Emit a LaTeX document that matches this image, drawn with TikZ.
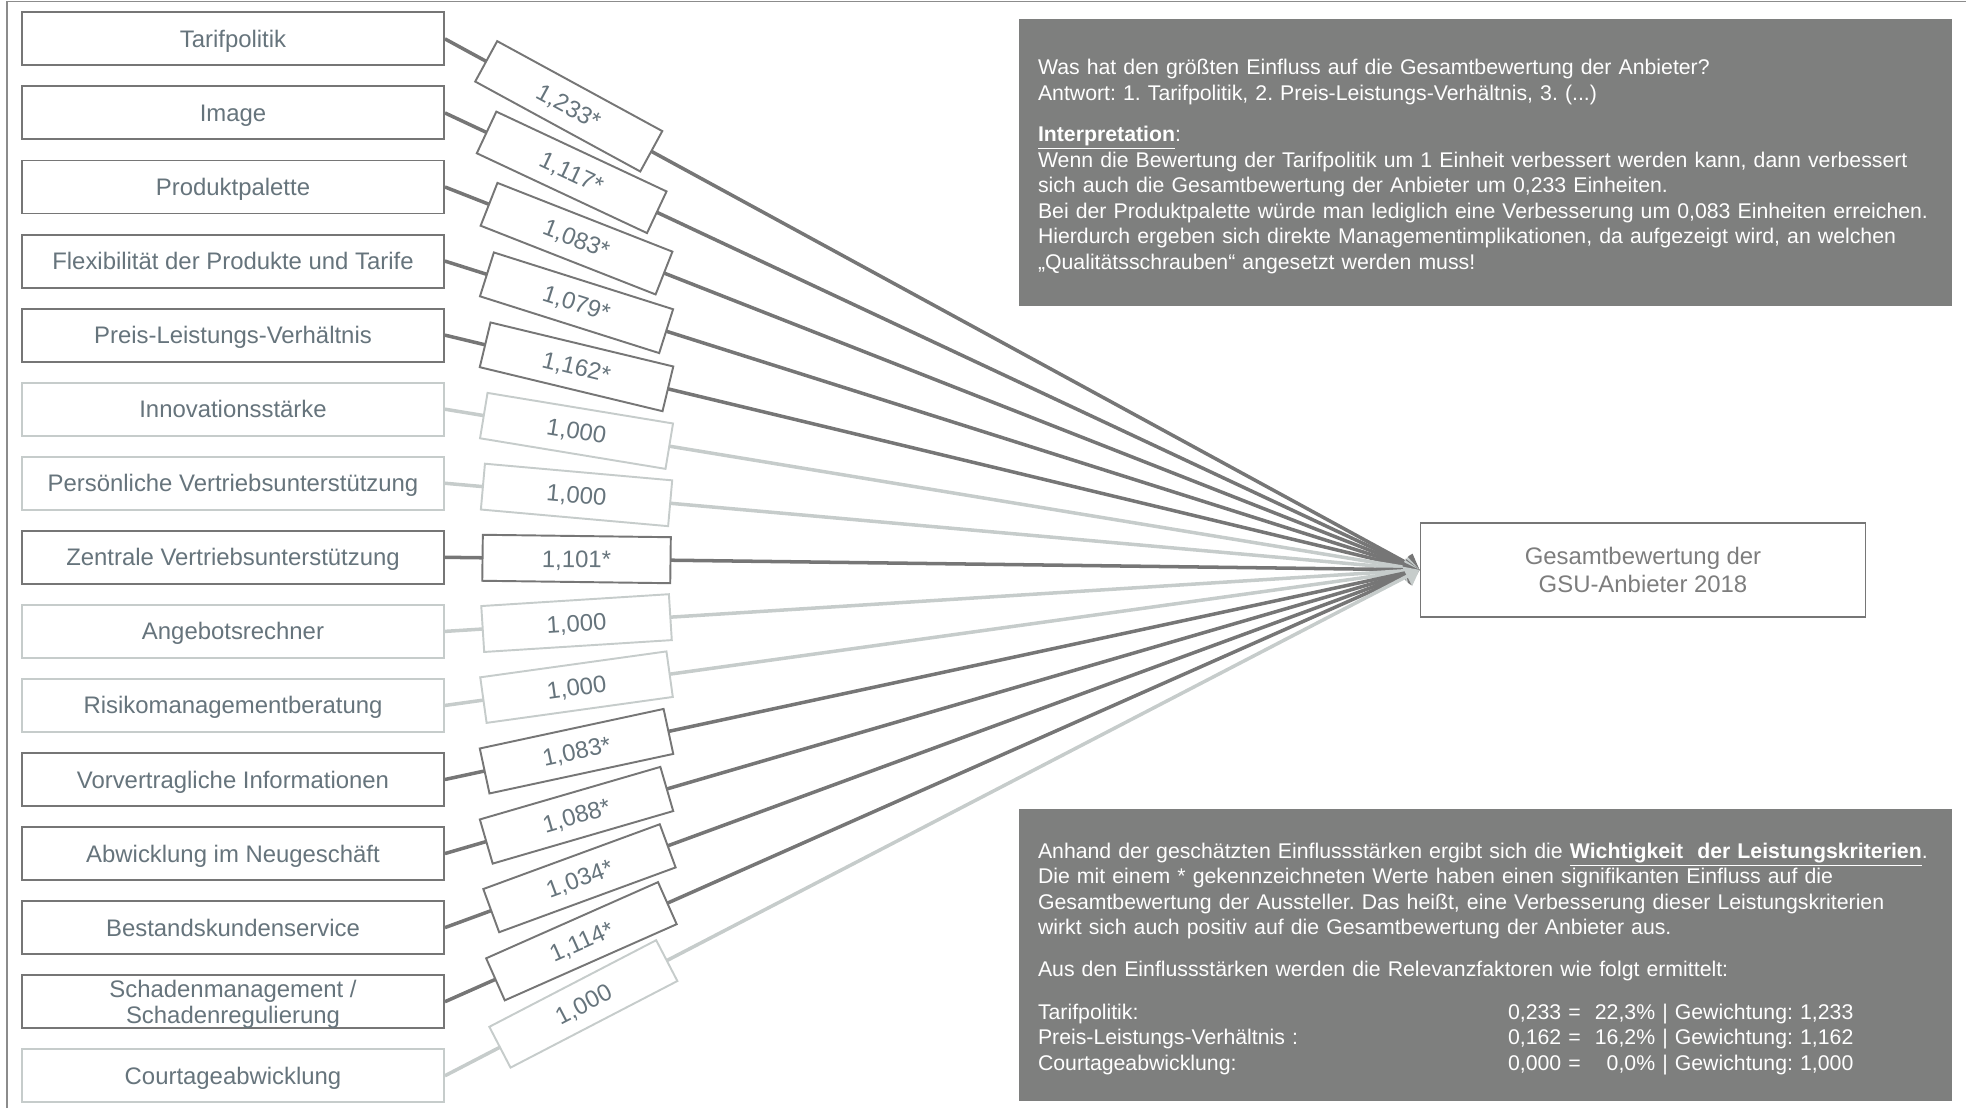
\documentclass[tikz,border=0pt]{standalone}
\usepackage{fontspec}
\setmainfont{Liberation Sans}
\usepackage{tikz}
\usetikzlibrary{arrows.meta}
\usepackage{xcolor}
\definecolor{darkline}{RGB}{118,118,118}
\definecolor{lightline}{RGB}{198,204,203}
\definecolor{slatetext}{RGB}{102,116,124}
\definecolor{panelgray}{RGB}{126,127,126}
\definecolor{framegray}{RGB}{140,140,140}
\definecolor{targettext}{RGB}{125,125,125}
\frenchspacing

\begin{document}
\begin{tikzpicture}[
  critbase/.style={rectangle, draw=darkline, line width=1.1pt, fill=white,
               minimum width=8.44cm, minimum height=1.06cm, inner sep=0pt,
               align=center, text=slatetext, font=\fontsize{13.6}{14.4}\selectfont},
  crit/.style={critbase, text height=0.44cm, text depth=0.1cm},
  critlight/.style={crit, draw=lightline},
  coef/.style={rectangle, draw=darkline, line width=1.1pt, fill=white,
               sloped, pos=0.135, minimum width=3.76cm, minimum height=0.92cm,
               inner sep=0pt, text height=0.34cm, text depth=0cm,
               text=slatetext, font=\fontsize{13.6}{15}\selectfont},
  coeflight/.style={coef, draw=lightline},
  link/.style={-{Triangle[length=2.8mm, width=4.2mm]}, line width=2pt, darkline},
  linklight/.style={link, lightline},
  panel/.style={rectangle, fill=panelgray, text=white, text width=17.9cm,
                inner xsep=0.38cm, align=left, font=\fontsize{12.1}{14.5}\selectfont}
]
\useasboundingbox (0,0) rectangle (39.32,22.16);

% frame (top and left edge only)
\draw[framegray, line width=1.1pt] (0.14,0) -- (0.14,22.13) -- (39.32,22.13);

% left column: criteria
\node[crit] (tarif) at (4.66, 21.382) {Tarifpolitik};
\node[crit] (image) at (4.66, 19.901) {Image};
\node[crit] (produkt) at (4.66, 18.420) {Produktpalette};
\node[crit] (flex) at (4.66, 16.938) {Flexibilität der Produkte und Tarife};
\node[crit] (preis) at (4.66, 15.457) {Preis-Leistungs-Verhältnis};
\node[critlight] (innov) at (4.66, 13.976) {Innovationsstärke};
\node[critlight] (persoen) at (4.66, 12.495) {Persönliche Vertriebsunterstützung};
\node[crit] (zentral) at (4.66, 11.014) {Zentrale Vertriebsunterstützung};
\node[critlight] (angebot) at (4.66, 9.532) {Angebotsrechner};
\node[critlight] (risiko) at (4.66, 8.051) {Risikomanagementberatung};
\node[crit] (vorv) at (4.66, 6.570) {Vorvertragliche Informationen};
\node[crit] (abw) at (4.66, 5.089) {Abwicklung im Neugeschäft};
\node[crit] (bestand) at (4.66, 3.608) {Bestandskundenservice};
\node[critbase] (schaden) at (4.66, 2.126) {\rule{0pt}{0.45cm}Schadenmanagement /\\Schadenregulierung};
\node[critlight] (courtage) at (4.66, 0.645) {Courtageabwicklung};

% target
\node[rectangle, draw=darkline, line width=1.1pt, minimum width=8.9cm,
      minimum height=1.88cm, align=center, text=targettext,
      font=\fontsize{13.6}{16.3}\selectfont] (gesamt) at (32.86, 10.763)
  {Gesamtbewertung der\\GSU-Anbieter 2018};

% arrows with estimated coefficients
\draw[link] (tarif.east) -- node[coef, pos=0.127] (w1) {1,233*} (gesamt.west);
\draw[link] (image.east) -- node[coef, pos=0.13] (w2) {1,117*} (gesamt.west);
\draw[link] (produkt.east) -- node[coef] (w3) {1,083*} (gesamt.west);
\draw[link] (flex.east) -- node[coef] (w4) {1,079*} (gesamt.west);
\draw[link] (preis.east) -- node[coef] (w5) {1,162*} (gesamt.west);
\draw[linklight] (innov.east) -- node[coeflight] (w6) {1,000} (gesamt.west);
\draw[linklight] (persoen.east) -- node[coeflight] (w7) {1,000} (gesamt.west);
\draw[link] (zentral.east) -- node[coef] (w8) {1,101*} (gesamt.west);
\draw[linklight] (angebot.east) -- node[coeflight] (w9) {1,000} (gesamt.west);
\draw[linklight] (risiko.east) -- node[coeflight] (w10) {1,000} (gesamt.west);
\draw[link] (vorv.east) -- node[coef] (w11) {1,083*} (gesamt.west);
\draw[link] (abw.east) -- node[coef] (w12) {1,088*} (gesamt.west);
\draw[link] (bestand.east) -- node[coef, pos=0.138] (w13) {1,034*} (gesamt.west);
\draw[link] (schaden.east) -- node[coef, pos=0.14] (w14) {1,114*} (gesamt.west);
\draw[linklight] (courtage.east) -- node[coeflight, pos=0.142] (w15) {1,000} (gesamt.west);

% upper panel: interpretation
\node[panel, minimum height=5.75cm] (frage) at (29.71, 18.908)
  {\rule{0pt}{13.3pt}Was hat den größten Einfluss auf die Gesamtbewertung der Anbieter?\\
   Antwort: 1. Tarifpolitik, 2. Preis-Leistungs-Verhältnis, 3. (...)\\[9pt]
   \underline{\textbf{Interpretation}}:\\
   Wenn die Bewertung der Tarifpolitik um 1 Einheit verbessert werden kann, dann verbessert\\
   sich auch die Gesamtbewertung der Anbieter um 0,233 Einheiten.\\
   Bei der Produktpalette würde man lediglich eine Verbesserung um 0,083 Einheiten erreichen.\\
   Hierdurch ergeben sich direkte Managementimplikationen, da aufgezeigt wird, an welchen\\
   „Qualitätsschrauben“ angesetzt werden muss!};

% lower panel: relevance factors
\node[panel, minimum height=5.836cm] (fazit) at (29.71, 3.068)
  {\rule{0pt}{15.4pt}Anhand der geschätzten Einflussstärken ergibt sich die \underline{\textbf{Wichtigkeit~ der Leistungskriterien}}.\\
   Die mit einem * gekennzeichneten Werte haben einen signifikanten Einfluss auf die\\
   Gesamtbewertung der Aussteller. Das heißt, eine Verbesserung dieser Leistungskriterien\\
   wirkt sich auch positiv auf die Gesamtbewertung der Anbieter aus.\\[9pt]
   Aus den Einflussstärken werden die Relevanzfaktoren wie folgt ermittelt:\\[11pt]
   \begin{tabular}{@{}p{9.4cm}@{}l@{\ \ }r@{\ |\ }l@{}}
   Tarifpolitik: & 0,233 = & 22,3\% & Gewichtung: 1,233\\
   Preis-Leistungs-Verhältnis : & 0,162 = & 16,2\% & Gewichtung: 1,162\\
   Courtageabwicklung: & 0,000 = & 0,0\% & Gewichtung: 1,000
   \end{tabular}};

\end{tikzpicture}
\end{document}
